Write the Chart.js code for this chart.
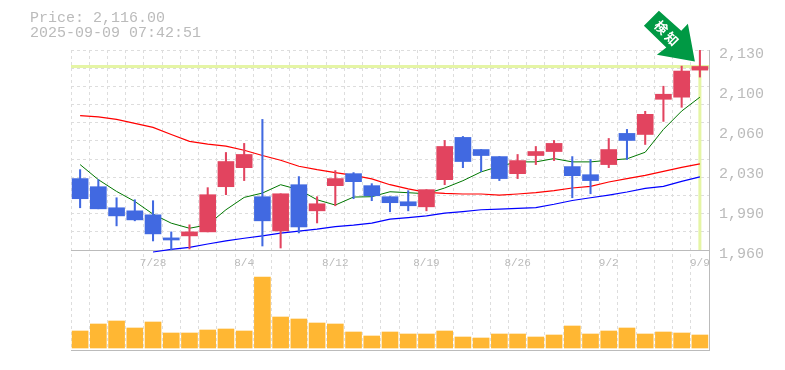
<!DOCTYPE html>
<html>
<head>
<meta charset="utf-8">
<style>html,body{margin:0;padding:0;background:#fff}canvas{display:block}</style>
<script src="https://cdn.jsdelivr.net/npm/chart.js@4"></script>
</head>
<body>
<canvas id="myChart" width="785" height="370"></canvas>
<script>
const days = ["7/22","7/23","7/24","7/25","7/28","7/29","7/30","7/31","8/1","8/4","8/5","8/6","8/7","8/8","8/12","8/13","8/14","8/15","8/18","8/19","8/20","8/21","8/22","8/25","8/26","8/27","8/28","8/29","9/1","9/2","9/3","9/4","9/5","9/8","9/9"];
const shownDays = ["7/28","8/4","8/12","8/19","8/26","9/2","9/9"];

const openVals = [2020.7,2013.8,1995.9,1993.3,1989.9,1970.3,1972,1975.4,2013.8,2030,2005.3,1976.2,2015.5,1993.3,2014.7,2024.9,2014.7,2005.3,2001,1996.7,2019.8,2055.7,2045.4,2039.4,2024.9,2040.3,2043.7,2030.9,2024,2032.6,2059.1,2058.2,2088.1,2089.9,2112.9];
const closeVals = [2003.6,1995,1989,1985.6,1973.7,1968.5,1975.4,2007,2035.2,2041.2,1984.8,2007.8,1979.6,1999.3,2020.7,2018.1,2006.1,2000.2,1997.6,2011.3,2048,2035.2,2040.3,2020.7,2036,2043.7,2050.6,2023.2,2019,2045.4,2053.1,2075.3,2092.4,2112.1,2116];
const highVals = [2028.3,2019.8,2004.4,2002.7,2001.9,1975.4,1981.4,2013,2042.9,2050.6,2071,2007.8,2022.4,2005.3,2027.5,2025.8,2016.4,2005.3,2010.4,2011.3,2053.1,2056.5,2045.4,2039.4,2041.2,2048,2053.1,2039.4,2036.9,2054.8,2062.5,2077.9,2099.2,2116.3,2130];
const lowVals = [1995.9,1995,1980.5,1984.8,1967.7,1960,1960.9,1975.4,2007,2019,1963.4,1961.7,1974.5,1983,1997.6,2003.6,2001.9,1992.5,1993.3,1993.3,2015.5,2030,2026.6,2019,2020.7,2032.6,2036,2004.4,2007.8,2030,2036.9,2049.7,2069.3,2081.3,2107];

const maShort = [2032.6,2019.8,2009.8,2001.3,1990.5,1982.8,1978.5,1981.4,1994.2,2004.7,2008.4,2015.5,2011.3,2002.7,1998.2,2005,2005.3,2009.5,2008.7,2007.8,2012.7,2018.9,2026.4,2031.2,2034.9,2034.9,2037.7,2034.9,2034.9,2036.3,2037.5,2043.1,2062.5,2078.1,2089.9];
const maMid = [2074.2,2073.2,2071.1,2067.6,2064.2,2058.2,2052.3,2050,2048.3,2044.8,2040.3,2036.3,2031.2,2028.3,2025.8,2023.5,2020.4,2015.5,2011.9,2009,2008.1,2007.6,2007.6,2006.7,2007.6,2008.7,2010.4,2012.7,2014.1,2017.8,2020.7,2023.5,2026.9,2030.3,2033.2];
const maLong = [null,null,null,null,1958.3,1960.6,1962.3,1965.1,1967.7,1970,1972,1974.3,1976,1977.7,1979.9,1981.1,1982.8,1986.2,1987.6,1989,1991.4,1992.7,1994.2,1994.8,1995.3,1996.1,1998.9,2002.1,2004.4,2006.7,2009.3,2012.4,2014.1,2018.3,2022.1];

const volumes = [17,24,27,20,26,15,15,18,19,17,71,31,29,25,24,16,12,16,14,14,17,11,10,14,14,11,13,22,14,17,20,14,16,15,13];

const lastPrice = 2116;
const yTickValues = [2130,2096,2062,2028,1994,1960];
const yTickLabels = ["2,130","2,100","2,060","2,030","1,990","1,960"];
const gridValues = [2130,2114.5,2099.1,2083.6,2068.2,2052.7,2037.3,2021.8,2006.4,1990.9,1975.5,1960];
const titleLines = ["Price: 2,116.00","2025-09-09 07:42:51"];
const markerText = ["検","知"];

const upColor = "#e2445f";
const downColor = "#4169e1";
const candleColors = closeVals.map((c,i) => c >= openVals[i] ? upColor : downColor);

// 価格とボリュームは同じプロット領域に重ねる
const priceMin = 1875, priceMax = 2130;
const fixWidth = (w) => (scale) => { scale.width = w; };

const markerPlugin = {
  id: "marker",
  afterDatasetsDraw(chart) {
    const c = chart.ctx;
    const x = chart.scales.x.getPixelForValue(34) - 5;
    const y = chart.scales.y.getPixelForValue(lastPrice) - 5;
    c.save();
    c.fillStyle = "#009944";
    c.beginPath();
    c.moveTo(x, y);
    c.lineTo(x - 38, y - 6.7);
    c.lineTo(x - 28.6, y - 14);
    c.lineTo(x - 51, y - 35.7);
    c.lineTo(x - 36, y - 50.7);
    c.lineTo(x - 13.6, y - 30.7);
    c.lineTo(x - 7, y - 37.7);
    c.closePath();
    c.fill();
    c.fillStyle = "#fff";
    c.font = "bold 13px 'Noto Sans CJK JP'";
    c.textAlign = "center";
    c.textBaseline = "middle";
    [[-33.5,-34],[-23,-22.5]].forEach((p,i) => {
      c.save();
      c.translate(x + p[0], y + p[1]);
      c.rotate(Math.PI / 4);
      c.fillText(markerText[i], 0, 0);
      c.restore();
    });
    c.restore();
  }
};

new Chart(document.getElementById("myChart").getContext("2d"), {
  type: "bar",
  data: {
    labels: days,
    datasets: [
      { label: "lastH", type: "line", xAxisID: "xn", yAxisID: "y", data: [{x:0,y:lastPrice},{x:35,y:lastPrice}], borderColor: "#e5f5a5", borderWidth: 3, pointRadius: 0, order: 6 },
      { label: "lastV", type: "line", xAxisID: "xn", yAxisID: "y", data: [{x:34.5,y:lastPrice},{x:34.5,y:yTickValues[5]}], borderColor: "#e5f5a5", borderWidth: 3, pointRadius: 0, order: 6 },
      { label: "volume", yAxisID: "yv", data: volumes, backgroundColor: "#ffb733", barThickness: 16, grouped: false, order: 5 },
      { label: "ma long", type: "line", yAxisID: "y", data: maLong, borderColor: "#0000ff", borderWidth: 1.2, pointRadius: 0, order: 4 },
      { label: "ma mid", type: "line", yAxisID: "y", data: maMid, borderColor: "#ff0000", borderWidth: 1.2, pointRadius: 0, order: 4 },
      { label: "ma short", type: "line", yAxisID: "y", data: maShort, borderColor: "#007700", borderWidth: 1, pointRadius: 0, order: 4 },
      { label: "wick", yAxisID: "y", data: highVals.map((h,i) => [lowVals[i],h]), backgroundColor: candleColors, barThickness: 1.4, grouped: false, order: 2 },
      { label: "body", yAxisID: "y", data: openVals.map((o,i) => [o,closeVals[i]]), backgroundColor: candleColors, barThickness: 16, grouped: false, order: 1 }
    ]
  },
  options: {
    responsive: false,
    animation: false,
    layout: { autoPadding: false, padding: { left: 30, right: 0, top: 0, bottom: 20 } },
    plugins: {
      legend: { display: false },
      tooltip: { enabled: false },
      title: {
        display: true,
        text: titleLines,
        align: "start",
        color: "#bbb",
        font: { family: "'Liberation Mono'", size: 15, weight: "normal", lineHeight: 1 },
        padding: { top: 11, bottom: 9 }
      }
    },
    scales: {
      x: {
        position: { y: 1960 },
        grid: { offset: true, color: "#ddd", drawTicks: false },
        border: { display: true, color: "#bbb", dash: [3,3] },
        ticks: {
          autoSkip: false, maxRotation: 0, padding: 6, color: "#bbb",
          font: { family: "'Liberation Mono'", size: 11 },
          callback: function (v) { const d = this.getLabelForValue(v); return shownDays.includes(d) ? d : ""; }
        }
      },
      // bar既定のoffsetを切らないと端まで届かない
      xn: { type: "linear", position: { y: 1960 }, display: false, offset: false, min: 0, max: 35 },
      y: {
        position: "right", min: priceMin, max: priceMax,
        afterFit: fixWidth(76),
        afterBuildTicks: (s) => { s.ticks = yTickValues.map(v => ({ value: v })); },
        grid: { display: false },
        border: { display: true, color: "#bbb" },
        ticks: {
          autoSkip: false, padding: 2, color: "#bbb", labelOffset: 4,
          font: { family: "'Liberation Mono'", size: 15 },
          callback: (v, i) => yTickLabels[i]
        }
      },
      yg: {
        position: "right", min: priceMin, max: priceMax,
        afterFit: fixWidth(0),
        afterBuildTicks: (s) => { s.ticks = gridValues.map(v => ({ value: v })); },
        grid: { color: "#ddd", drawTicks: false },
        border: { display: false, dash: [3,3] },
        ticks: { display: false }
      },
      yv: {
        position: "left", min: -2, max: 298,
        afterFit: fixWidth(41),
        afterBuildTicks: (s) => { s.ticks = [{ value: -2 }]; },
        grid: { color: "#bbb", drawTicks: false },
        border: { display: false },
        ticks: { display: false }
      }
    }
  },
  plugins: [markerPlugin]
});
</script>
</body>
</html>
